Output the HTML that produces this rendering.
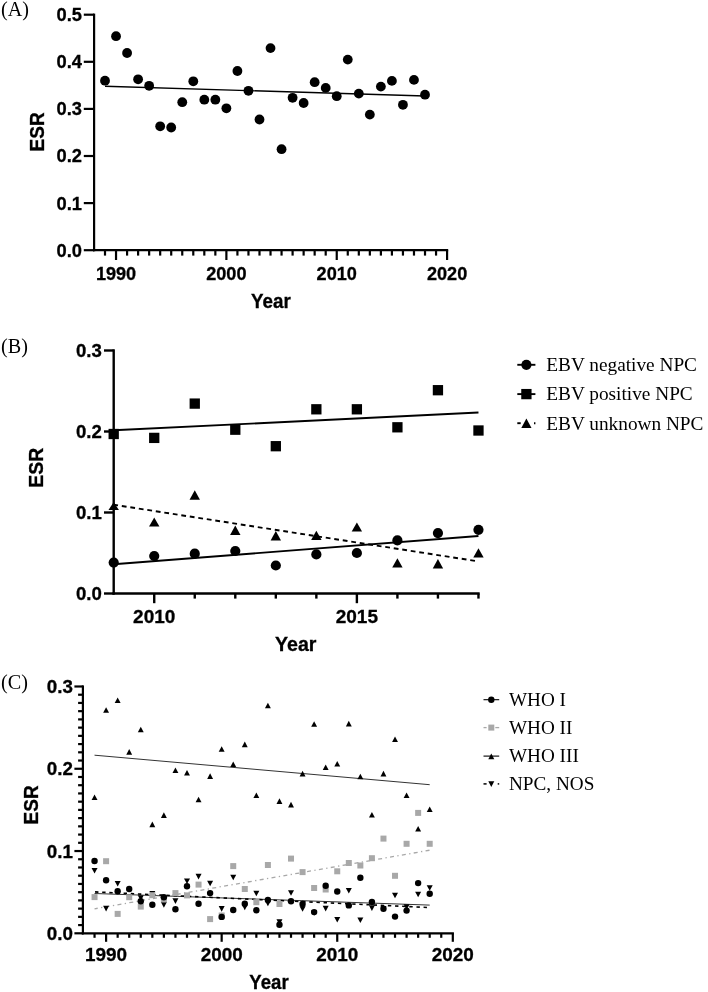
<!DOCTYPE html>
<html><head><meta charset="utf-8"><title>ESR trends</title>
<style>
html,body{margin:0;padding:0;background:#fff;width:708px;height:992px;overflow:hidden}
svg{display:block;filter:grayscale(100%)}
text{fill:#000}
</style></head>
<body>
<svg width="708" height="992" viewBox="0 0 708 992">
<rect width="708" height="992" fill="#fff"/>
<line x1="94.1" y1="13.6" x2="94.1" y2="251.3" stroke="#000" stroke-width="2.2"/>
<line x1="93.0" y1="250.2" x2="448.19" y2="250.2" stroke="#000" stroke-width="2.2"/>
<line x1="83.8" y1="250.20" x2="94.1" y2="250.20" stroke="#000" stroke-width="2.2"/>
<text x="82" y="256.60" text-anchor="end" style="font-family:'Liberation Sans',sans-serif;font-weight:bold;stroke:#000;stroke-width:0.3px;font-size:18.3px">0.0</text>
<line x1="83.8" y1="203.10" x2="94.1" y2="203.10" stroke="#000" stroke-width="2.2"/>
<text x="82" y="209.50" text-anchor="end" style="font-family:'Liberation Sans',sans-serif;font-weight:bold;stroke:#000;stroke-width:0.3px;font-size:18.3px">0.1</text>
<line x1="83.8" y1="156" x2="94.1" y2="156" stroke="#000" stroke-width="2.2"/>
<text x="82" y="162.40" text-anchor="end" style="font-family:'Liberation Sans',sans-serif;font-weight:bold;stroke:#000;stroke-width:0.3px;font-size:18.3px">0.2</text>
<line x1="83.8" y1="108.90" x2="94.1" y2="108.90" stroke="#000" stroke-width="2.2"/>
<text x="82" y="115.30" text-anchor="end" style="font-family:'Liberation Sans',sans-serif;font-weight:bold;stroke:#000;stroke-width:0.3px;font-size:18.3px">0.3</text>
<line x1="83.8" y1="61.80" x2="94.1" y2="61.80" stroke="#000" stroke-width="2.2"/>
<text x="82" y="68.20" text-anchor="end" style="font-family:'Liberation Sans',sans-serif;font-weight:bold;stroke:#000;stroke-width:0.3px;font-size:18.3px">0.4</text>
<line x1="83.8" y1="14.70" x2="94.1" y2="14.70" stroke="#000" stroke-width="2.2"/>
<text x="82" y="21.10" text-anchor="end" style="font-family:'Liberation Sans',sans-serif;font-weight:bold;stroke:#000;stroke-width:0.3px;font-size:18.3px">0.5</text>
<line x1="105" y1="250.2" x2="105" y2="255.6" stroke="#000" stroke-width="2.2"/>
<line x1="116.03" y1="250.2" x2="116.03" y2="260.0" stroke="#000" stroke-width="2.2"/>
<text x="116.03" y="280.0" text-anchor="middle" style="font-family:'Liberation Sans',sans-serif;font-weight:bold;stroke:#000;stroke-width:0.3px;font-size:18.1px">1990</text>
<line x1="127.07" y1="250.2" x2="127.07" y2="255.6" stroke="#000" stroke-width="2.2"/>
<line x1="138.11" y1="250.2" x2="138.11" y2="255.6" stroke="#000" stroke-width="2.2"/>
<line x1="149.14" y1="250.2" x2="149.14" y2="255.6" stroke="#000" stroke-width="2.2"/>
<line x1="160.18" y1="250.2" x2="160.18" y2="255.6" stroke="#000" stroke-width="2.2"/>
<line x1="171.21" y1="250.2" x2="171.21" y2="255.6" stroke="#000" stroke-width="2.2"/>
<line x1="182.25" y1="250.2" x2="182.25" y2="255.6" stroke="#000" stroke-width="2.2"/>
<line x1="193.28" y1="250.2" x2="193.28" y2="255.6" stroke="#000" stroke-width="2.2"/>
<line x1="204.31" y1="250.2" x2="204.31" y2="255.6" stroke="#000" stroke-width="2.2"/>
<line x1="215.35" y1="250.2" x2="215.35" y2="255.6" stroke="#000" stroke-width="2.2"/>
<line x1="226.38" y1="250.2" x2="226.38" y2="260.0" stroke="#000" stroke-width="2.2"/>
<text x="226.38" y="280.0" text-anchor="middle" style="font-family:'Liberation Sans',sans-serif;font-weight:bold;stroke:#000;stroke-width:0.3px;font-size:18.1px">2000</text>
<line x1="237.42" y1="250.2" x2="237.42" y2="255.6" stroke="#000" stroke-width="2.2"/>
<line x1="248.46" y1="250.2" x2="248.46" y2="255.6" stroke="#000" stroke-width="2.2"/>
<line x1="259.49" y1="250.2" x2="259.49" y2="255.6" stroke="#000" stroke-width="2.2"/>
<line x1="270.52" y1="250.2" x2="270.52" y2="255.6" stroke="#000" stroke-width="2.2"/>
<line x1="281.56" y1="250.2" x2="281.56" y2="255.6" stroke="#000" stroke-width="2.2"/>
<line x1="292.60" y1="250.2" x2="292.60" y2="255.6" stroke="#000" stroke-width="2.2"/>
<line x1="303.63" y1="250.2" x2="303.63" y2="255.6" stroke="#000" stroke-width="2.2"/>
<line x1="314.66" y1="250.2" x2="314.66" y2="255.6" stroke="#000" stroke-width="2.2"/>
<line x1="325.70" y1="250.2" x2="325.70" y2="255.6" stroke="#000" stroke-width="2.2"/>
<line x1="336.74" y1="250.2" x2="336.74" y2="260.0" stroke="#000" stroke-width="2.2"/>
<text x="336.74" y="280.0" text-anchor="middle" style="font-family:'Liberation Sans',sans-serif;font-weight:bold;stroke:#000;stroke-width:0.3px;font-size:18.1px">2010</text>
<line x1="347.77" y1="250.2" x2="347.77" y2="255.6" stroke="#000" stroke-width="2.2"/>
<line x1="358.81" y1="250.2" x2="358.81" y2="255.6" stroke="#000" stroke-width="2.2"/>
<line x1="369.84" y1="250.2" x2="369.84" y2="255.6" stroke="#000" stroke-width="2.2"/>
<line x1="380.88" y1="250.2" x2="380.88" y2="255.6" stroke="#000" stroke-width="2.2"/>
<line x1="391.91" y1="250.2" x2="391.91" y2="255.6" stroke="#000" stroke-width="2.2"/>
<line x1="402.94" y1="250.2" x2="402.94" y2="255.6" stroke="#000" stroke-width="2.2"/>
<line x1="413.98" y1="250.2" x2="413.98" y2="255.6" stroke="#000" stroke-width="2.2"/>
<line x1="425.01" y1="250.2" x2="425.01" y2="255.6" stroke="#000" stroke-width="2.2"/>
<line x1="436.05" y1="250.2" x2="436.05" y2="255.6" stroke="#000" stroke-width="2.2"/>
<line x1="447.08" y1="250.2" x2="447.08" y2="260.0" stroke="#000" stroke-width="2.2"/>
<text x="447.08" y="280.0" text-anchor="middle" style="font-family:'Liberation Sans',sans-serif;font-weight:bold;stroke:#000;stroke-width:0.3px;font-size:18.1px">2020</text>
<line x1="105" y1="86.3" x2="425.01" y2="96.0" stroke="#000" stroke-width="1.4"/>
<circle cx="105" cy="80.7" r="4.9" fill="#000"/>
<circle cx="116.03" cy="36.2" r="4.9" fill="#000"/>
<circle cx="127.07" cy="53.0" r="4.9" fill="#000"/>
<circle cx="138.11" cy="79.3" r="4.9" fill="#000"/>
<circle cx="149.14" cy="85.8" r="4.9" fill="#000"/>
<circle cx="160.18" cy="126.3" r="4.9" fill="#000"/>
<circle cx="171.21" cy="127.5" r="4.9" fill="#000"/>
<circle cx="182.25" cy="102.2" r="4.9" fill="#000"/>
<circle cx="193.28" cy="81.3" r="4.9" fill="#000"/>
<circle cx="204.31" cy="99.7" r="4.9" fill="#000"/>
<circle cx="215.35" cy="99.7" r="4.9" fill="#000"/>
<circle cx="226.38" cy="108.3" r="4.9" fill="#000"/>
<circle cx="237.42" cy="71.0" r="4.9" fill="#000"/>
<circle cx="248.46" cy="90.8" r="4.9" fill="#000"/>
<circle cx="259.49" cy="119.5" r="4.9" fill="#000"/>
<circle cx="270.52" cy="48.1" r="4.9" fill="#000"/>
<circle cx="281.56" cy="149.2" r="4.9" fill="#000"/>
<circle cx="292.60" cy="97.8" r="4.9" fill="#000"/>
<circle cx="303.63" cy="103.0" r="4.9" fill="#000"/>
<circle cx="314.66" cy="82.2" r="4.9" fill="#000"/>
<circle cx="325.70" cy="87.9" r="4.9" fill="#000"/>
<circle cx="336.74" cy="96.2" r="4.9" fill="#000"/>
<circle cx="347.77" cy="59.6" r="4.9" fill="#000"/>
<circle cx="358.81" cy="93.6" r="4.9" fill="#000"/>
<circle cx="369.84" cy="114.6" r="4.9" fill="#000"/>
<circle cx="380.88" cy="86.6" r="4.9" fill="#000"/>
<circle cx="391.91" cy="80.9" r="4.9" fill="#000"/>
<circle cx="402.94" cy="104.8" r="4.9" fill="#000"/>
<circle cx="413.98" cy="79.9" r="4.9" fill="#000"/>
<circle cx="425.01" cy="94.7" r="4.9" fill="#000"/>
<text transform="translate(270.9 307.8) scale(1 1.06)" text-anchor="middle" style="font-family:'Liberation Sans',sans-serif;font-weight:bold;stroke:#000;stroke-width:0.3px;font-size:18.8px">Year</text>
<text transform="translate(44.3 131.9) rotate(-90) scale(1 1.07)" text-anchor="middle" style="font-family:'Liberation Sans',sans-serif;font-weight:bold;stroke:#000;stroke-width:0.3px;font-size:19px">ESR</text>
<text x="1.0" y="16.3" style="font-family:'Liberation Serif',serif;font-size:20.2px">(A)</text>
<line x1="113.7" y1="349.3" x2="113.7" y2="594.7" stroke="#000" stroke-width="2.4"/>
<line x1="112.5" y1="593.5" x2="479.67" y2="593.5" stroke="#000" stroke-width="2.4"/>
<line x1="104.0" y1="593.50" x2="113.7" y2="593.50" stroke="#000" stroke-width="2.4"/>
<text x="101.8" y="600.10" text-anchor="end" style="font-family:'Liberation Sans',sans-serif;font-weight:bold;stroke:#000;stroke-width:0.3px;font-size:18.6px">0.0</text>
<line x1="104.0" y1="512.50" x2="113.7" y2="512.50" stroke="#000" stroke-width="2.4"/>
<text x="101.8" y="519.10" text-anchor="end" style="font-family:'Liberation Sans',sans-serif;font-weight:bold;stroke:#000;stroke-width:0.3px;font-size:18.6px">0.1</text>
<line x1="104.0" y1="431.50" x2="113.7" y2="431.50" stroke="#000" stroke-width="2.4"/>
<text x="101.8" y="438.10" text-anchor="end" style="font-family:'Liberation Sans',sans-serif;font-weight:bold;stroke:#000;stroke-width:0.3px;font-size:18.6px">0.2</text>
<line x1="104.0" y1="350.50" x2="113.7" y2="350.50" stroke="#000" stroke-width="2.4"/>
<text x="101.8" y="357.10" text-anchor="end" style="font-family:'Liberation Sans',sans-serif;font-weight:bold;stroke:#000;stroke-width:0.3px;font-size:18.6px">0.3</text>
<line x1="154.23" y1="593.5" x2="154.23" y2="603.2" stroke="#000" stroke-width="2.4"/>
<text x="154.23" y="622.8" text-anchor="middle" style="font-family:'Liberation Sans',sans-serif;font-weight:bold;stroke:#000;stroke-width:0.3px;font-size:19px">2010</text>
<line x1="194.76" y1="593.5" x2="194.76" y2="598.6" stroke="#000" stroke-width="2.4"/>
<line x1="235.29" y1="593.5" x2="235.29" y2="598.6" stroke="#000" stroke-width="2.4"/>
<line x1="275.82" y1="593.5" x2="275.82" y2="598.6" stroke="#000" stroke-width="2.4"/>
<line x1="316.35" y1="593.5" x2="316.35" y2="598.6" stroke="#000" stroke-width="2.4"/>
<line x1="356.88" y1="593.5" x2="356.88" y2="603.2" stroke="#000" stroke-width="2.4"/>
<text x="356.88" y="622.8" text-anchor="middle" style="font-family:'Liberation Sans',sans-serif;font-weight:bold;stroke:#000;stroke-width:0.3px;font-size:19px">2015</text>
<line x1="397.41" y1="593.5" x2="397.41" y2="598.6" stroke="#000" stroke-width="2.4"/>
<line x1="437.94" y1="593.5" x2="437.94" y2="598.6" stroke="#000" stroke-width="2.4"/>
<line x1="478.47" y1="593.5" x2="478.47" y2="598.6" stroke="#000" stroke-width="2.4"/>
<line x1="113.70" y1="430.3" x2="478.47" y2="412.5" stroke="#000" stroke-width="1.9"/>
<line x1="113.70" y1="564.3" x2="478.47" y2="536.0" stroke="#000" stroke-width="1.9"/>
<line x1="113.70" y1="504.7" x2="478.47" y2="561.4" stroke="#000" stroke-width="1.9" stroke-dasharray="4.8 3.8" stroke-dashoffset="0.4"/>
<circle cx="113.70" cy="562.6" r="5.1" fill="#000"/>
<circle cx="154.23" cy="556.0" r="5.1" fill="#000"/>
<circle cx="194.76" cy="553.7" r="5.1" fill="#000"/>
<circle cx="235.29" cy="551.0" r="5.1" fill="#000"/>
<circle cx="275.82" cy="565.5" r="5.1" fill="#000"/>
<circle cx="316.35" cy="554.4" r="5.1" fill="#000"/>
<circle cx="356.88" cy="553.0" r="5.1" fill="#000"/>
<circle cx="397.41" cy="540.4" r="5.1" fill="#000"/>
<circle cx="437.94" cy="533.1" r="5.1" fill="#000"/>
<circle cx="478.47" cy="529.8" r="5.1" fill="#000"/>
<rect x="108.55" y="428.85" width="10.3" height="10.3" fill="#000"/>
<rect x="149.08" y="432.75" width="10.3" height="10.3" fill="#000"/>
<rect x="189.61" y="398.45" width="10.3" height="10.3" fill="#000"/>
<rect x="230.14" y="424.55" width="10.3" height="10.3" fill="#000"/>
<rect x="270.67" y="441.05" width="10.3" height="10.3" fill="#000"/>
<rect x="311.20" y="404.15" width="10.3" height="10.3" fill="#000"/>
<rect x="351.73" y="404.15" width="10.3" height="10.3" fill="#000"/>
<rect x="392.26" y="422.15" width="10.3" height="10.3" fill="#000"/>
<rect x="432.79" y="385.05" width="10.3" height="10.3" fill="#000"/>
<rect x="473.32" y="425.35" width="10.3" height="10.3" fill="#000"/>
<polygon points="108.50,509.90 118.90,509.90 113.70,501.90" fill="#000"/>
<polygon points="149.03,526.60 159.43,526.60 154.23,517.40" fill="#000"/>
<polygon points="189.56,499.80 199.96,499.80 194.76,490.20" fill="#000"/>
<polygon points="230.09,535.10 240.49,535.10 235.29,525.50" fill="#000"/>
<polygon points="270.62,540.50 281.02,540.50 275.82,531.10" fill="#000"/>
<polygon points="311.15,540.00 321.55,540.00 316.35,530.80" fill="#000"/>
<polygon points="351.68,531.40 362.08,531.40 356.88,522.60" fill="#000"/>
<polygon points="392.21,567.60 402.61,567.60 397.41,558.30" fill="#000"/>
<polygon points="432.74,568.40 443.14,568.40 437.94,559" fill="#000"/>
<polygon points="473.27,557.50 483.67,557.50 478.47,548.20" fill="#000"/>
<line x1="517.3" y1="364.8" x2="535.4" y2="364.8" stroke="#000" stroke-width="1.9"/>
<circle cx="526.4" cy="364.8" r="5.1" fill="#000"/>
<line x1="517.3" y1="394.1" x2="535.4" y2="394.1" stroke="#000" stroke-width="1.9"/>
<rect x="521.25" y="388.95" width="10.3" height="10.3" fill="#000"/>
<line x1="517.3" y1="423.2" x2="520.7" y2="423.2" stroke="#000" stroke-width="1.9"/>
<line x1="534.0" y1="423.2" x2="535.4" y2="423.2" stroke="#000" stroke-width="1.9"/>
<polygon points="521.30,428.00 531.50,428.00 526.40,418.40" fill="#000"/>
<text x="546.3" y="370.8" style="font-family:'Liberation Serif',serif;font-size:19.3px">EBV negative NPC</text>
<text x="546.3" y="400.2" style="font-family:'Liberation Serif',serif;font-size:19.3px">EBV positive NPC</text>
<text x="546.3" y="429.9" style="font-family:'Liberation Serif',serif;font-size:19.3px">EBV unknown NPC</text>
<text x="25" y="362" style="font-family:'Liberation Sans',sans-serif;font-weight:bold;stroke:#000;stroke-width:0.3px;font-size:19.3px"></text>
<text x="295.8" y="650.8" text-anchor="middle" style="font-family:'Liberation Sans',sans-serif;font-weight:bold;stroke:#000;stroke-width:0.3px;font-size:19.6px">Year</text>
<text transform="translate(42.6 467.7) rotate(-90)" text-anchor="middle" style="font-family:'Liberation Sans',sans-serif;font-weight:bold;stroke:#000;stroke-width:0.3px;font-size:19.4px">ESR</text>
<text x="1.0" y="352.9" style="font-family:'Liberation Serif',serif;font-size:20.2px">(B)</text>
<line x1="82.9" y1="685.39" x2="82.9" y2="934.4" stroke="#000" stroke-width="2.2"/>
<line x1="81.8" y1="933.3" x2="453.91" y2="933.3" stroke="#000" stroke-width="2.2"/>
<line x1="74.4" y1="933.30" x2="82.9" y2="933.30" stroke="#000" stroke-width="2.2"/>
<text x="72.9" y="939.90" text-anchor="end" style="font-family:'Liberation Sans',sans-serif;font-weight:bold;stroke:#000;stroke-width:0.3px;font-size:18.8px">0.0</text>
<line x1="78.1" y1="925.07" x2="82.9" y2="925.07" stroke="#000" stroke-width="2.2"/>
<line x1="78.1" y1="916.85" x2="82.9" y2="916.85" stroke="#000" stroke-width="2.2"/>
<line x1="78.1" y1="908.62" x2="82.9" y2="908.62" stroke="#000" stroke-width="2.2"/>
<line x1="78.1" y1="900.39" x2="82.9" y2="900.39" stroke="#000" stroke-width="2.2"/>
<line x1="78.1" y1="892.16" x2="82.9" y2="892.16" stroke="#000" stroke-width="2.2"/>
<line x1="78.1" y1="883.94" x2="82.9" y2="883.94" stroke="#000" stroke-width="2.2"/>
<line x1="78.1" y1="875.71" x2="82.9" y2="875.71" stroke="#000" stroke-width="2.2"/>
<line x1="78.1" y1="867.48" x2="82.9" y2="867.48" stroke="#000" stroke-width="2.2"/>
<line x1="78.1" y1="859.26" x2="82.9" y2="859.26" stroke="#000" stroke-width="2.2"/>
<line x1="74.4" y1="851.03" x2="82.9" y2="851.03" stroke="#000" stroke-width="2.2"/>
<text x="72.9" y="857.63" text-anchor="end" style="font-family:'Liberation Sans',sans-serif;font-weight:bold;stroke:#000;stroke-width:0.3px;font-size:18.8px">0.1</text>
<line x1="78.1" y1="842.80" x2="82.9" y2="842.80" stroke="#000" stroke-width="2.2"/>
<line x1="78.1" y1="834.58" x2="82.9" y2="834.58" stroke="#000" stroke-width="2.2"/>
<line x1="78.1" y1="826.35" x2="82.9" y2="826.35" stroke="#000" stroke-width="2.2"/>
<line x1="78.1" y1="818.12" x2="82.9" y2="818.12" stroke="#000" stroke-width="2.2"/>
<line x1="78.1" y1="809.89" x2="82.9" y2="809.89" stroke="#000" stroke-width="2.2"/>
<line x1="78.1" y1="801.67" x2="82.9" y2="801.67" stroke="#000" stroke-width="2.2"/>
<line x1="78.1" y1="793.44" x2="82.9" y2="793.44" stroke="#000" stroke-width="2.2"/>
<line x1="78.1" y1="785.21" x2="82.9" y2="785.21" stroke="#000" stroke-width="2.2"/>
<line x1="78.1" y1="776.99" x2="82.9" y2="776.99" stroke="#000" stroke-width="2.2"/>
<line x1="74.4" y1="768.76" x2="82.9" y2="768.76" stroke="#000" stroke-width="2.2"/>
<text x="72.9" y="775.36" text-anchor="end" style="font-family:'Liberation Sans',sans-serif;font-weight:bold;stroke:#000;stroke-width:0.3px;font-size:18.8px">0.2</text>
<line x1="78.1" y1="760.53" x2="82.9" y2="760.53" stroke="#000" stroke-width="2.2"/>
<line x1="78.1" y1="752.31" x2="82.9" y2="752.31" stroke="#000" stroke-width="2.2"/>
<line x1="78.1" y1="744.08" x2="82.9" y2="744.08" stroke="#000" stroke-width="2.2"/>
<line x1="78.1" y1="735.85" x2="82.9" y2="735.85" stroke="#000" stroke-width="2.2"/>
<line x1="78.1" y1="727.62" x2="82.9" y2="727.62" stroke="#000" stroke-width="2.2"/>
<line x1="78.1" y1="719.40" x2="82.9" y2="719.40" stroke="#000" stroke-width="2.2"/>
<line x1="78.1" y1="711.17" x2="82.9" y2="711.17" stroke="#000" stroke-width="2.2"/>
<line x1="78.1" y1="702.94" x2="82.9" y2="702.94" stroke="#000" stroke-width="2.2"/>
<line x1="78.1" y1="694.72" x2="82.9" y2="694.72" stroke="#000" stroke-width="2.2"/>
<line x1="74.4" y1="686.49" x2="82.9" y2="686.49" stroke="#000" stroke-width="2.2"/>
<text x="72.9" y="693.09" text-anchor="end" style="font-family:'Liberation Sans',sans-serif;font-weight:bold;stroke:#000;stroke-width:0.3px;font-size:18.8px">0.3</text>
<line x1="94.54" y1="933.3" x2="94.54" y2="937.8" stroke="#000" stroke-width="2.2"/>
<line x1="106.10" y1="933.3" x2="106.10" y2="941.8" stroke="#000" stroke-width="2.2"/>
<text x="106.10" y="961.3" text-anchor="middle" style="font-family:'Liberation Sans',sans-serif;font-weight:bold;stroke:#000;stroke-width:0.3px;font-size:18.9px">1990</text>
<line x1="117.66" y1="933.3" x2="117.66" y2="937.8" stroke="#000" stroke-width="2.2"/>
<line x1="129.21" y1="933.3" x2="129.21" y2="937.8" stroke="#000" stroke-width="2.2"/>
<line x1="140.77" y1="933.3" x2="140.77" y2="937.8" stroke="#000" stroke-width="2.2"/>
<line x1="152.33" y1="933.3" x2="152.33" y2="937.8" stroke="#000" stroke-width="2.2"/>
<line x1="163.88" y1="933.3" x2="163.88" y2="937.8" stroke="#000" stroke-width="2.2"/>
<line x1="175.44" y1="933.3" x2="175.44" y2="937.8" stroke="#000" stroke-width="2.2"/>
<line x1="187" y1="933.3" x2="187" y2="937.8" stroke="#000" stroke-width="2.2"/>
<line x1="198.56" y1="933.3" x2="198.56" y2="937.8" stroke="#000" stroke-width="2.2"/>
<line x1="210.11" y1="933.3" x2="210.11" y2="937.8" stroke="#000" stroke-width="2.2"/>
<line x1="221.67" y1="933.3" x2="221.67" y2="941.8" stroke="#000" stroke-width="2.2"/>
<text x="221.67" y="961.3" text-anchor="middle" style="font-family:'Liberation Sans',sans-serif;font-weight:bold;stroke:#000;stroke-width:0.3px;font-size:18.9px">2000</text>
<line x1="233.23" y1="933.3" x2="233.23" y2="937.8" stroke="#000" stroke-width="2.2"/>
<line x1="244.78" y1="933.3" x2="244.78" y2="937.8" stroke="#000" stroke-width="2.2"/>
<line x1="256.34" y1="933.3" x2="256.34" y2="937.8" stroke="#000" stroke-width="2.2"/>
<line x1="267.90" y1="933.3" x2="267.90" y2="937.8" stroke="#000" stroke-width="2.2"/>
<line x1="279.46" y1="933.3" x2="279.46" y2="937.8" stroke="#000" stroke-width="2.2"/>
<line x1="291.01" y1="933.3" x2="291.01" y2="937.8" stroke="#000" stroke-width="2.2"/>
<line x1="302.57" y1="933.3" x2="302.57" y2="937.8" stroke="#000" stroke-width="2.2"/>
<line x1="314.13" y1="933.3" x2="314.13" y2="937.8" stroke="#000" stroke-width="2.2"/>
<line x1="325.68" y1="933.3" x2="325.68" y2="937.8" stroke="#000" stroke-width="2.2"/>
<line x1="337.24" y1="933.3" x2="337.24" y2="941.8" stroke="#000" stroke-width="2.2"/>
<text x="337.24" y="961.3" text-anchor="middle" style="font-family:'Liberation Sans',sans-serif;font-weight:bold;stroke:#000;stroke-width:0.3px;font-size:18.9px">2010</text>
<line x1="348.80" y1="933.3" x2="348.80" y2="937.8" stroke="#000" stroke-width="2.2"/>
<line x1="360.35" y1="933.3" x2="360.35" y2="937.8" stroke="#000" stroke-width="2.2"/>
<line x1="371.91" y1="933.3" x2="371.91" y2="937.8" stroke="#000" stroke-width="2.2"/>
<line x1="383.47" y1="933.3" x2="383.47" y2="937.8" stroke="#000" stroke-width="2.2"/>
<line x1="395.02" y1="933.3" x2="395.02" y2="937.8" stroke="#000" stroke-width="2.2"/>
<line x1="406.58" y1="933.3" x2="406.58" y2="937.8" stroke="#000" stroke-width="2.2"/>
<line x1="418.14" y1="933.3" x2="418.14" y2="937.8" stroke="#000" stroke-width="2.2"/>
<line x1="429.70" y1="933.3" x2="429.70" y2="937.8" stroke="#000" stroke-width="2.2"/>
<line x1="441.25" y1="933.3" x2="441.25" y2="937.8" stroke="#000" stroke-width="2.2"/>
<line x1="452.81" y1="933.3" x2="452.81" y2="941.8" stroke="#000" stroke-width="2.2"/>
<text x="452.81" y="961.3" text-anchor="middle" style="font-family:'Liberation Sans',sans-serif;font-weight:bold;stroke:#000;stroke-width:0.3px;font-size:18.9px">2020</text>
<line x1="94.54" y1="755.2" x2="429.70" y2="784.7" stroke="#333" stroke-width="1.0"/>
<line x1="94.54" y1="908.8" x2="429.70" y2="850.2" stroke="#a8a8a8" stroke-width="1.3" stroke-dasharray="4.0 3.4 1.3 3.33" stroke-dashoffset="0.8"/>
<line x1="94.54" y1="893.5" x2="429.70" y2="905.1" stroke="#333" stroke-width="1.0"/>
<line x1="94.54" y1="891.9" x2="429.70" y2="907.6" stroke="#000" stroke-width="1.6" stroke-dasharray="3.4 3.75" stroke-dashoffset="-0.5"/>
<polygon points="91.54,868.00 97.54,868.00 94.54,873.60" fill="#000"/>
<polygon points="103.10,905.80 109.10,905.80 106.10,911.40" fill="#000"/>
<polygon points="114.66,880.90 120.66,880.90 117.66,886.50" fill="#000"/>
<polygon points="126.21,894.20 132.21,894.20 129.21,899.80" fill="#000"/>
<polygon points="137.77,895.30 143.77,895.30 140.77,900.90" fill="#000"/>
<polygon points="149.33,891.00 155.33,891.00 152.33,896.60" fill="#000"/>
<polygon points="160.88,902.10 166.88,902.10 163.88,907.70" fill="#000"/>
<polygon points="172.44,898.30 178.44,898.30 175.44,903.90" fill="#000"/>
<polygon points="184.00,878.40 190.00,878.40 187.00,884" fill="#000"/>
<polygon points="195.56,873.80 201.56,873.80 198.56,879.40" fill="#000"/>
<polygon points="207.11,880.70 213.11,880.70 210.11,886.30" fill="#000"/>
<polygon points="218.67,906.10 224.67,906.10 221.67,911.70" fill="#000"/>
<polygon points="230.23,874.70 236.23,874.70 233.23,880.30" fill="#000"/>
<polygon points="241.78,904.60 247.78,904.60 244.78,910.20" fill="#000"/>
<polygon points="253.34,890.70 259.34,890.70 256.34,896.30" fill="#000"/>
<polygon points="264.90,900.70 270.90,900.70 267.90,906.30" fill="#000"/>
<polygon points="276.46,919.30 282.46,919.30 279.46,924.90" fill="#000"/>
<polygon points="288.01,890.20 294.01,890.20 291.01,895.80" fill="#000"/>
<polygon points="299.57,906.20 305.57,906.20 302.57,911.80" fill="#000"/>
<polygon points="311.13,910.20 317.13,910.20 314.13,915.80" fill="#000"/>
<polygon points="322.68,905.80 328.68,905.80 325.68,911.40" fill="#000"/>
<polygon points="334.24,916.90 340.24,916.90 337.24,922.50" fill="#000"/>
<polygon points="345.80,888.00 351.80,888.00 348.80,893.60" fill="#000"/>
<polygon points="357.35,917.50 363.35,917.50 360.35,923.10" fill="#000"/>
<polygon points="368.91,905.30 374.91,905.30 371.91,910.90" fill="#000"/>
<polygon points="380.47,905.90 386.47,905.90 383.47,911.50" fill="#000"/>
<polygon points="392.02,892.70 398.02,892.70 395.02,898.30" fill="#000"/>
<polygon points="403.58,904.30 409.58,904.30 406.58,909.90" fill="#000"/>
<polygon points="415.14,891.70 421.14,891.70 418.14,897.30" fill="#000"/>
<polygon points="426.70,885.20 432.70,885.20 429.70,890.80" fill="#000"/>
<rect x="91.54" y="894.10" width="6.0" height="6.0" fill="#a8a8a8"/>
<rect x="103.10" y="858.20" width="6.0" height="6.0" fill="#a8a8a8"/>
<rect x="114.66" y="910.90" width="6.0" height="6.0" fill="#a8a8a8"/>
<rect x="126.21" y="894.20" width="6.0" height="6.0" fill="#a8a8a8"/>
<rect x="137.77" y="903.60" width="6.0" height="6.0" fill="#a8a8a8"/>
<rect x="149.33" y="892.20" width="6.0" height="6.0" fill="#a8a8a8"/>
<rect x="160.88" y="896.50" width="6.0" height="6.0" fill="#a8a8a8"/>
<rect x="172.44" y="890.10" width="6.0" height="6.0" fill="#a8a8a8"/>
<rect x="184" y="892.40" width="6.0" height="6.0" fill="#a8a8a8"/>
<rect x="195.56" y="881.60" width="6.0" height="6.0" fill="#a8a8a8"/>
<rect x="207.11" y="916.10" width="6.0" height="6.0" fill="#a8a8a8"/>
<rect x="218.67" y="912.50" width="6.0" height="6.0" fill="#a8a8a8"/>
<rect x="230.23" y="863.10" width="6.0" height="6.0" fill="#a8a8a8"/>
<rect x="241.78" y="886" width="6.0" height="6.0" fill="#a8a8a8"/>
<rect x="253.34" y="899.20" width="6.0" height="6.0" fill="#a8a8a8"/>
<rect x="264.90" y="862" width="6.0" height="6.0" fill="#a8a8a8"/>
<rect x="276.46" y="901" width="6.0" height="6.0" fill="#a8a8a8"/>
<rect x="288.01" y="855.60" width="6.0" height="6.0" fill="#a8a8a8"/>
<rect x="299.57" y="869.10" width="6.0" height="6.0" fill="#a8a8a8"/>
<rect x="311.13" y="885" width="6.0" height="6.0" fill="#a8a8a8"/>
<rect x="322.68" y="886.50" width="6.0" height="6.0" fill="#a8a8a8"/>
<rect x="334.24" y="868.30" width="6.0" height="6.0" fill="#a8a8a8"/>
<rect x="345.80" y="860" width="6.0" height="6.0" fill="#a8a8a8"/>
<rect x="357.35" y="862.50" width="6.0" height="6.0" fill="#a8a8a8"/>
<rect x="368.91" y="855.20" width="6.0" height="6.0" fill="#a8a8a8"/>
<rect x="380.47" y="835.60" width="6.0" height="6.0" fill="#a8a8a8"/>
<rect x="392.02" y="872.80" width="6.0" height="6.0" fill="#a8a8a8"/>
<rect x="403.58" y="840.80" width="6.0" height="6.0" fill="#a8a8a8"/>
<rect x="415.14" y="809.90" width="6.0" height="6.0" fill="#a8a8a8"/>
<rect x="426.70" y="840.80" width="6.0" height="6.0" fill="#a8a8a8"/>
<circle cx="94.54" cy="861.0" r="3.2" fill="#000"/>
<circle cx="106.10" cy="880.3" r="3.2" fill="#000"/>
<circle cx="117.66" cy="891.3" r="3.2" fill="#000"/>
<circle cx="129.21" cy="889.0" r="3.2" fill="#000"/>
<circle cx="140.77" cy="901.3" r="3.2" fill="#000"/>
<circle cx="152.33" cy="904.7" r="3.2" fill="#000"/>
<circle cx="163.88" cy="897.2" r="3.2" fill="#000"/>
<circle cx="175.44" cy="909.2" r="3.2" fill="#000"/>
<circle cx="187" cy="886.3" r="3.2" fill="#000"/>
<circle cx="198.56" cy="903.7" r="3.2" fill="#000"/>
<circle cx="210.11" cy="893.1" r="3.2" fill="#000"/>
<circle cx="221.67" cy="916.9" r="3.2" fill="#000"/>
<circle cx="233.23" cy="910.0" r="3.2" fill="#000"/>
<circle cx="244.78" cy="903.7" r="3.2" fill="#000"/>
<circle cx="256.34" cy="910.3" r="3.2" fill="#000"/>
<circle cx="267.90" cy="899.9" r="3.2" fill="#000"/>
<circle cx="279.46" cy="924.8" r="3.2" fill="#000"/>
<circle cx="291.01" cy="901.2" r="3.2" fill="#000"/>
<circle cx="302.57" cy="904.0" r="3.2" fill="#000"/>
<circle cx="314.13" cy="912.1" r="3.2" fill="#000"/>
<circle cx="325.68" cy="885.8" r="3.2" fill="#000"/>
<circle cx="337.24" cy="891.5" r="3.2" fill="#000"/>
<circle cx="348.80" cy="905.4" r="3.2" fill="#000"/>
<circle cx="360.35" cy="877.7" r="3.2" fill="#000"/>
<circle cx="371.91" cy="902.0" r="3.2" fill="#000"/>
<circle cx="383.47" cy="908.7" r="3.2" fill="#000"/>
<circle cx="395.02" cy="916.6" r="3.2" fill="#000"/>
<circle cx="406.58" cy="910.6" r="3.2" fill="#000"/>
<circle cx="418.14" cy="883.1" r="3.2" fill="#000"/>
<circle cx="429.70" cy="893.7" r="3.2" fill="#000"/>
<polygon points="91.59,800.10 97.49,800.10 94.54,794.50" fill="#000"/>
<polygon points="103.15,712.80 109.05,712.80 106.10,707.20" fill="#000"/>
<polygon points="114.71,703.00 120.61,703.00 117.66,697.40" fill="#000"/>
<polygon points="126.26,754.70 132.16,754.70 129.21,749.10" fill="#000"/>
<polygon points="137.82,732.30 143.72,732.30 140.77,726.70" fill="#000"/>
<polygon points="149.38,827.20 155.28,827.20 152.33,821.60" fill="#000"/>
<polygon points="160.94,817.90 166.83,817.90 163.88,812.30" fill="#000"/>
<polygon points="172.49,773.00 178.39,773.00 175.44,767.40" fill="#000"/>
<polygon points="184.05,775.60 189.95,775.60 187.00,770" fill="#000"/>
<polygon points="195.61,802.30 201.51,802.30 198.56,796.70" fill="#000"/>
<polygon points="207.16,778.90 213.06,778.90 210.11,773.30" fill="#000"/>
<polygon points="218.72,751.80 224.62,751.80 221.67,746.20" fill="#000"/>
<polygon points="230.28,767.10 236.18,767.10 233.23,761.50" fill="#000"/>
<polygon points="241.83,747.20 247.73,747.20 244.78,741.60" fill="#000"/>
<polygon points="253.39,798.10 259.29,798.10 256.34,792.50" fill="#000"/>
<polygon points="264.95,708.30 270.85,708.30 267.90,702.70" fill="#000"/>
<polygon points="276.51,803.90 282.41,803.90 279.46,798.30" fill="#000"/>
<polygon points="288.06,807.40 293.96,807.40 291.01,801.80" fill="#000"/>
<polygon points="299.62,776.40 305.52,776.40 302.57,770.80" fill="#000"/>
<polygon points="311.18,726.80 317.08,726.80 314.13,721.20" fill="#000"/>
<polygon points="322.73,770.00 328.63,770.00 325.68,764.40" fill="#000"/>
<polygon points="334.29,766.60 340.19,766.60 337.24,761" fill="#000"/>
<polygon points="345.85,726.40 351.75,726.40 348.80,720.80" fill="#000"/>
<polygon points="357.40,779.30 363.30,779.30 360.35,773.70" fill="#000"/>
<polygon points="368.96,817.60 374.86,817.60 371.91,812" fill="#000"/>
<polygon points="380.52,776.40 386.42,776.40 383.47,770.80" fill="#000"/>
<polygon points="392.07,742.00 397.97,742.00 395.02,736.40" fill="#000"/>
<polygon points="403.63,798.10 409.53,798.10 406.58,792.50" fill="#000"/>
<polygon points="415.19,831.60 421.09,831.60 418.14,826" fill="#000"/>
<polygon points="426.75,812.10 432.65,812.10 429.70,806.50" fill="#000"/>
<line x1="483.5" y1="699.7" x2="499.2" y2="699.7" stroke="#000" stroke-width="1.1"/>
<circle cx="491.3" cy="699.7" r="3.2" fill="#000"/>
<line x1="483.5" y1="727.6" x2="486.6" y2="727.6" stroke="#a8a8a8" stroke-width="1.3"/>
<line x1="495.3" y1="727.6" x2="499.2" y2="727.6" stroke="#a8a8a8" stroke-width="1.3"/>
<rect x="488.3" y="724.6" width="6" height="6" fill="#a8a8a8"/>
<line x1="483.5" y1="756.1" x2="499.2" y2="756.1" stroke="#000" stroke-width="1.1"/>
<polygon points="488.30,759.30 494.30,759.30 491.30,753.50" fill="#000"/>
<line x1="483.5" y1="783.9" x2="486.6" y2="783.9" stroke="#000" stroke-width="1.5"/>
<line x1="497.7" y1="783.9" x2="499.2" y2="783.9" stroke="#000" stroke-width="1.5"/>
<polygon points="488.30,781.20 494.30,781.20 491.30,787" fill="#000"/>
<text x="509.0" y="706.2" style="font-family:'Liberation Serif',serif;font-size:19.2px">WHO I</text>
<text x="509.0" y="734.2" style="font-family:'Liberation Serif',serif;font-size:19.2px">WHO II</text>
<text x="509.0" y="762.2" style="font-family:'Liberation Serif',serif;font-size:19.2px">WHO III</text>
<text x="509.0" y="790.4" style="font-family:'Liberation Serif',serif;font-size:19.2px">NPC, NOS</text>
<text transform="translate(269 988.8) scale(1 1.05)" text-anchor="middle" style="font-family:'Liberation Sans',sans-serif;font-weight:bold;stroke:#000;stroke-width:0.3px;font-size:18.6px">Year</text>
<text transform="translate(37.6 804.9) rotate(-90) scale(1 1.07)" text-anchor="middle" style="font-family:'Liberation Sans',sans-serif;font-weight:bold;stroke:#000;stroke-width:0.3px;font-size:19px">ESR</text>
<text x="1.0" y="688.9" style="font-family:'Liberation Serif',serif;font-size:20.2px">(C)</text>
</svg>
</body></html>
